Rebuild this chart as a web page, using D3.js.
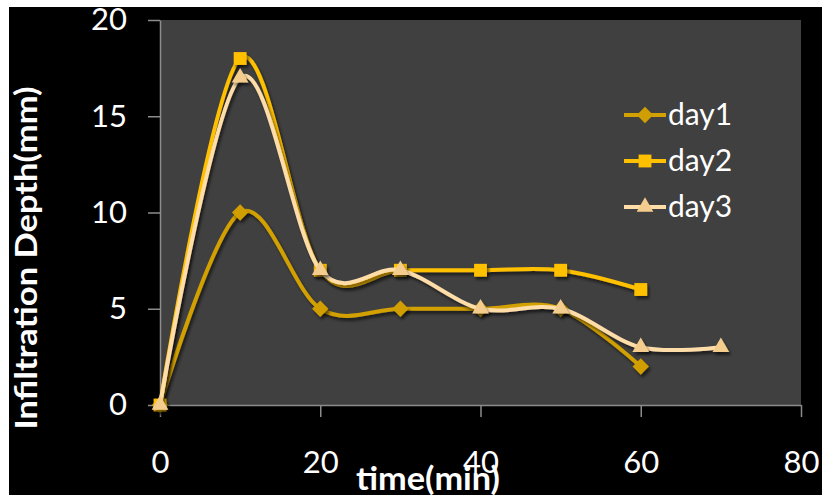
<!DOCTYPE html>
<html>
<head>
<meta charset="utf-8">
<script src="https://cdn.jsdelivr.net/npm/d3@7"></script>
<style>
  html, body { margin: 0; padding: 0; background: #fff; }
  svg { display: block; }
  text { font-family: Lato, "Open Sans", sans-serif; fill: #fff; }
</style>
</head>
<body>
<svg id="chart"></svg>
<script>
// data
const times = [0, 10, 20, 30, 40, 50, 60, 70];
const day1 = [0, 10, 5, 5, 5, 5, 2];
const day2 = [0, 18, 7, 7, 7, 7, 6];
const day3 = [0, 17, 7, 7, 5, 5, 3, 3];
const seriesNames = ['day1', 'day2', 'day3'];
const xTicks = [0, 20, 40, 60, 80];
const yTicks = [0, 5, 10, 15, 20];

const width = 822;
const height = 495;
const plot = { left: 160, right: 801, top: 20, bottom: 405 };

const colors = { day1: '#D2A000', day2: '#FFC000', day3: '#FFDDA8' };
const markerColors = { day1: '#D09E00', day2: '#FFC000', day3: '#F4CD8E' };
const symbols = { day1: d3.symbolDiamond2, day2: d3.symbolSquare2, day3: d3.symbolTriangle2 };
const symbolSize = { day1: 170, day2: 210, day3: 200 };

const svg = d3.select('#chart').attr('width', width).attr('height', height);

const defs = svg.append('defs');
const shadow = defs.append('filter').attr('id', 'shadow')
  .attr('x', '-50%').attr('y', '-50%').attr('width', '200%').attr('height', '200%');
shadow.append('feDropShadow').attr('dx', 2).attr('dy', 3).attr('stdDeviation', 1.6)
  .attr('flood-color', '#000').attr('flood-opacity', 0.55);

// black background with the thin white margin at top and left
svg.append('rect').attr('x', 9).attr('y', 7).attr('width', width - 9).attr('height', height - 7).attr('fill', '#000');

const x = d3.scaleLinear().domain([0, 80]).range([plot.left, plot.right]);
const y = d3.scaleLinear().domain([0, 20]).range([plot.bottom, plot.top]);

svg.append('rect')
  .attr('x', plot.left).attr('y', plot.top)
  .attr('width', plot.right - plot.left).attr('height', plot.bottom - plot.top)
  .attr('fill', '#404040');

const yAxis = svg.append('g').attr('transform', 'translate(' + plot.left + ',0)')
  .call(d3.axisLeft(y).tickValues(yTicks).tickSize(12).tickPadding(21).tickSizeOuter(0));
const xAxis = svg.append('g').attr('transform', 'translate(0,' + plot.bottom + ')')
  .call(d3.axisBottom(x).tickValues(xTicks).tickSize(12).tickSizeOuter(0));

[xAxis, yAxis].forEach(ax => {
  ax.select('.domain').attr('stroke', '#8c8c8c').attr('stroke-width', 1.5);
  ax.selectAll('.tick line').attr('stroke', '#8c8c8c').attr('stroke-width', 1.5);
  ax.selectAll('.tick text').attr('fill', '#fff').style('font-size', '31px').attr('font-family', null);
});
xAxis.selectAll('.tick text').attr('y', 68).attr('dy', 0);

const line = d3.line()
  .x(d => x(d[0]))
  .y(d => y(d[1]))
  .curve(d3.curveCatmullRom.alpha(0));

const allSeries = [day1, day2, day3].map((vals, i) => ({
  name: seriesNames[i],
  points: vals.map((v, j) => [times[j], v])
}));

const g = svg.append('g');
allSeries.forEach(s => {
  g.append('path')
    .attr('d', line(s.points))
    .attr('fill', 'none')
    .attr('stroke', colors[s.name])
    .attr('stroke-width', 4)
    .attr('filter', 'url(#shadow)');
  g.selectAll('.m-' + s.name)
    .data(s.points)
    .enter().append('path')
    .attr('class', 'm-' + s.name)
    .attr('transform', d => 'translate(' + x(d[0]) + ',' + y(d[1]) + ')')
    .attr('d', d3.symbol().type(symbols[s.name]).size(symbolSize[s.name]))
    .attr('fill', markerColors[s.name])
    .attr('filter', 'url(#shadow)');
});

// legend
const legend = svg.append('g');
const legendY = [115, 161, 207];
seriesNames.forEach((name, i) => {
  const row = legend.append('g').attr('transform', 'translate(0,' + legendY[i] + ')');
  row.append('line').attr('x1', 624).attr('x2', 666).attr('y1', 0).attr('y2', 0)
    .attr('stroke', colors[name]).attr('stroke-width', 4);
  row.append('path').attr('transform', 'translate(645,0)')
    .attr('d', d3.symbol().type(symbols[name]).size(symbolSize[name]))
    .attr('fill', markerColors[name]);
  row.append('text').attr('x', 668).attr('y', 10).style('font-size', '30px').text(name);
});

// axis titles
svg.append('text')
  .attr('x', 428).attr('y', 490)
  .attr('text-anchor', 'middle')
  .attr('textLength', 144).attr('lengthAdjust', 'spacingAndGlyphs')
  .style('font-size', '32px').style('font-weight', 'bold')
  .text('time(min)');

svg.append('text')
  .attr('transform', 'translate(37,258) rotate(-90)')
  .attr('text-anchor', 'middle')
  .attr('textLength', 343).attr('lengthAdjust', 'spacingAndGlyphs')
  .style('font-size', '30px').style('font-weight', 'bold')
  .text('Infiltration Depth(mm)');
</script>
</body>
</html>
